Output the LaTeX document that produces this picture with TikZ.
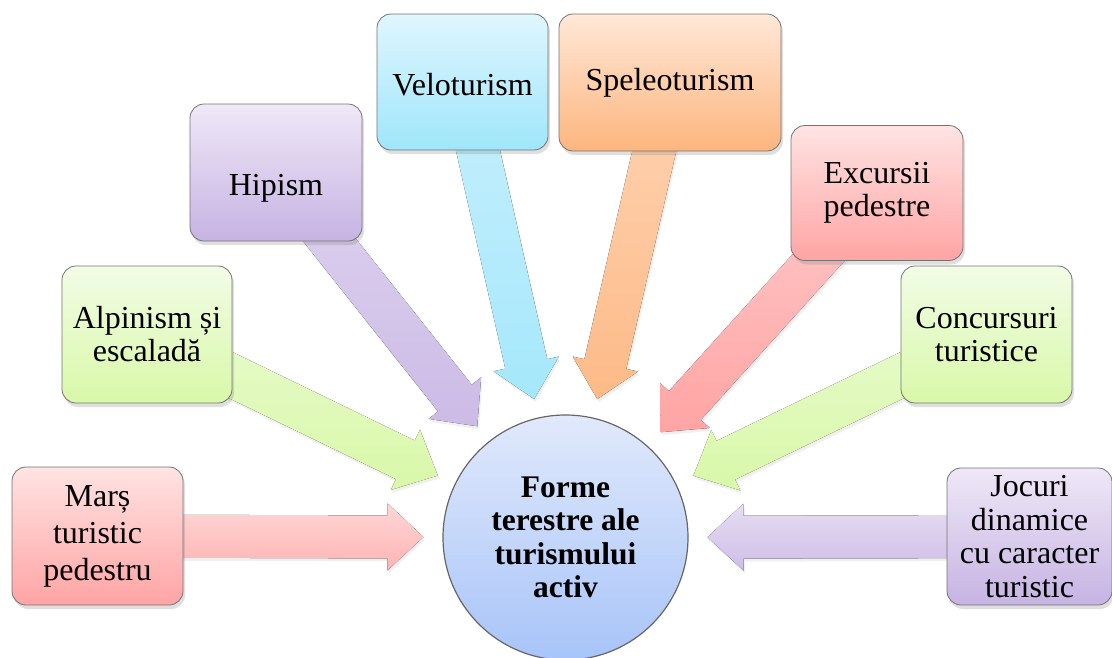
\documentclass[tikz,border=0pt]{standalone}
\usepackage{fontspec}
\setmainfont{Liberation Serif}
\usetikzlibrary{calc,shadows,backgrounds}

\definecolor{redtop}{HTML}{FFE3E3}
\definecolor{redbot}{HTML}{FFA4A4}
\definecolor{greentop}{HTML}{F2FCE6}
\definecolor{greenbot}{HTML}{D9F8A8}
\definecolor{purptop}{HTML}{EFE8F7}
\definecolor{purpbot}{HTML}{C6B3E3}
\definecolor{bluetop}{HTML}{E0F6FE}
\definecolor{bluebot}{HTML}{9FE6FB}
\definecolor{oratop}{HTML}{FFE8D7}
\definecolor{orabot}{HTML}{FDB57E}
\definecolor{hubtop}{HTML}{E1E9FB}
\definecolor{hubbot}{HTML}{A8C4F9}

\def\flowarrow#1#2#3{%
	\coordinate (t) at ($(hub.center)!142pt!(#1.center)$);
	\coordinate (h) at ($(t)!36pt!(#1.center)$);
	\fill[arrowbody, top color=#2, bottom color=#3]
		($(#1.center)!21.5pt!90:(t)$) -- ($(h)!21.5pt!-90:(#1.center)$) -- ($(h)!33.5pt!-90:(#1.center)$) -- (t)
		-- ($(h)!33.5pt!90:(#1.center)$) -- ($(h)!21.5pt!90:(#1.center)$) -- ($(#1.center)!21.5pt!-90:(t)$) -- cycle;}

\tikzset{
	formbox/.style={draw=black!55, line width=0.8pt, rounded corners=14pt, align=center, inner sep=0pt,
		minimum width=171pt, minimum height=137pt, font=\fontsize{32}{33}\selectfont,
		drop shadow={shadow xshift=2pt, shadow yshift=-4pt, opacity=0.25}},
	arrowbody/.style={drop shadow={shadow xshift=1.5pt, shadow yshift=-3pt, opacity=0.12}},
}

\begin{document}
\begin{tikzpicture}[x=1pt, y=-1pt]
		%%%%% START %%%%%
		\useasboundingbox (0, 0) rectangle (1112, 657);
		
		\node[draw=black!60, line width=1.2pt, circle, minimum size=245pt, inner sep=0pt, align=center,
			top color=hubtop, bottom color=hubbot, font=\fontsize{31.5}{33.5}\selectfont\bfseries]
			(hub) at (565.5, 537.5) {Forme\\terestre ale\\turismului\\activ};
		
		\node[formbox, top color=redtop, bottom color=redbot, minimum height=138pt, font=\fontsize{32}{37}\selectfont] (mars) at (97.5, 536) {Marș\\turistic\\pedestru};
		\node[formbox, top color=greentop, bottom color=greenbot, minimum width=170pt] (alpin) at (147, 334.5) {Alpinism și\\escaladă};
		\node[formbox, top color=purptop, bottom color=purpbot, minimum width=172pt] (hipism) at (276, 172.5) {\raisebox{-16pt}[\height][\depth]{Hipism}};
		\node[formbox, top color=bluetop, bottom color=bluebot, minimum height=136pt] (velo) at (462.5, 82) {\raisebox{-3pt}[\height][\depth]{Veloturism}};
		\node[formbox, top color=oratop, bottom color=orabot, minimum width=222pt] (speleo) at (670, 82.5) {Speleoturism};
		\node[formbox, top color=redtop, bottom color=redbot, minimum width=172pt, minimum height=135pt] (excursii) at (877, 193) {Excursii\\pedestre};
		\node[formbox, top color=greentop, bottom color=greenbot] (concurs) at (986.5, 334.5) {Concursuri\\turistice};
		\node[formbox, top color=purptop, bottom color=purpbot, minimum width=165pt, font=\fontsize{32}{33.5}\selectfont] (jocuri) at (1029.5, 536.5) {Jocuri\\dinamice\\cu caracter\\turistic};
		
		\begin{scope}[on background layer]
			\flowarrow{mars}{redtop!80!redbot}{redbot!75!redtop}
			\flowarrow{alpin}{greentop!60!greenbot}{greenbot}
			\flowarrow{hipism}{purptop!60!purpbot}{purpbot!85!purptop}
			\flowarrow{velo}{bluetop!60!bluebot}{bluebot!90!bluetop}
			\flowarrow{speleo}{oratop!60!orabot}{orabot!90!oratop}
			\flowarrow{excursii}{redtop!60!redbot}{redbot}
			\flowarrow{concurs}{greentop!60!greenbot}{greenbot}
			\flowarrow{jocuri}{purptop!80!purpbot}{purpbot!80!purptop}
		\end{scope}
		%%%%% END %%%%%
\end{tikzpicture}
\end{document}
